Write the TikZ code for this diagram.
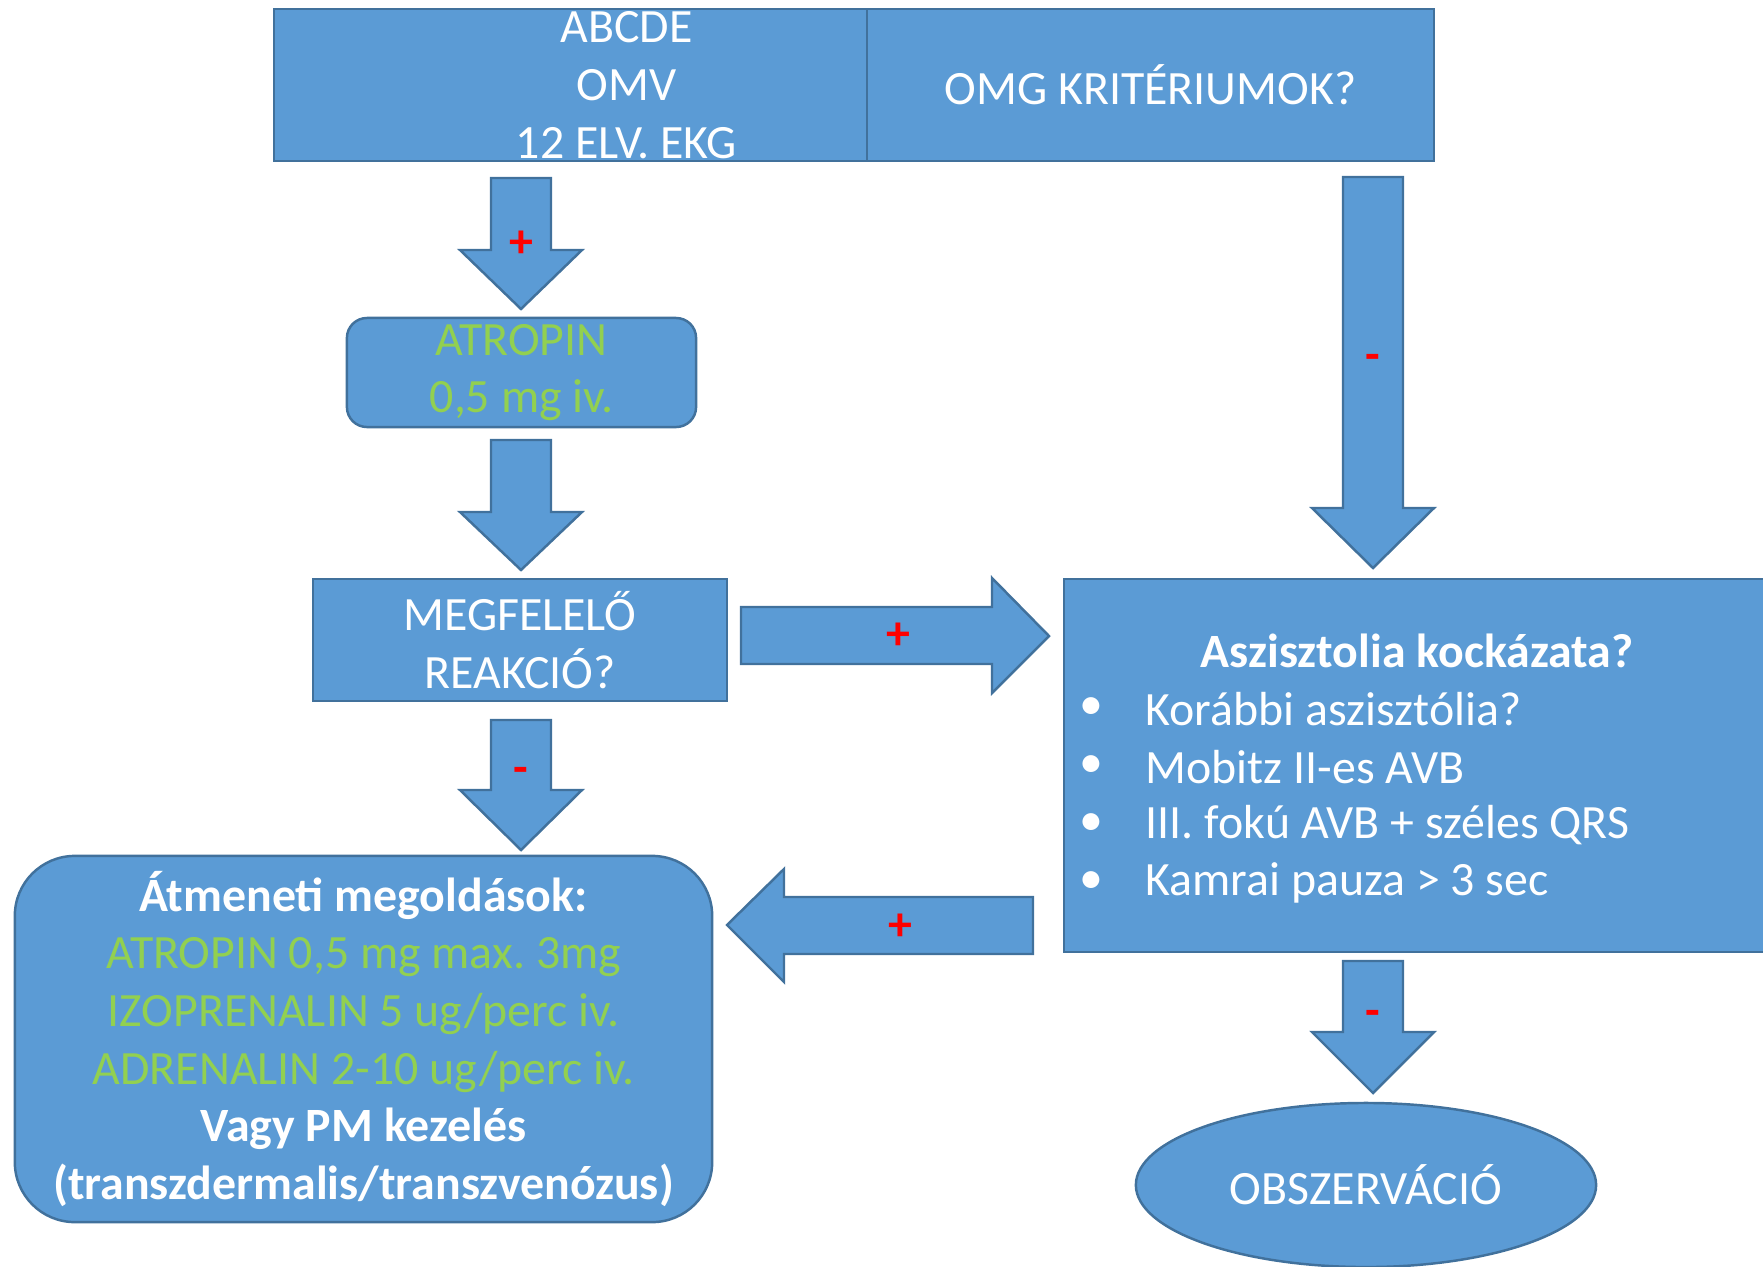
\documentclass[tikz,border=0pt]{standalone}
\usepackage{fontspec}
\setmainfont{Carlito}
\usepackage{tikz}
\usetikzlibrary{shapes.geometric}
\definecolor{boxblue}{HTML}{5B9BD5}
\definecolor{boxline}{HTML}{41719C}
\definecolor{drugcolor}{HTML}{92D050}
\frenchspacing
\begin{document}
\begin{tikzpicture}[x=0.01cm,y=-0.01cm,
  every node/.style={font=\fontsize{13.6}{16.4}\selectfont},
  box/.style={draw=boxline,fill=boxblue,line width=0.7pt,inner sep=0pt,align=center,text=white},
  blockarrow/.style={draw=boxline,fill=boxblue,line width=0.7pt,line join=miter},
  sign/.style={text=red,font=\fontsize{13.6}{16.4}\selectfont\bfseries}]
\useasboundingbox (0,0) rectangle (1763,1266);
%% boxes
\node[box,minimum width=7.05cm,minimum height=1.52cm] (abcde) at (626.5,85) {ABCDE\\OMV\\12 ELV. EKG};
\node[box,minimum width=5.67cm,minimum height=1.52cm] (omg) at (1150.5,85) {OMG KRITÉRIUMOK?};
\node[box,rounded corners=0.2cm,text=drugcolor,minimum width=3.49cm,minimum height=1.09cm] (atropin) at (521.5,372.5) {ATROPIN\\0,5 mg iv.};
\node[box,minimum width=4.14cm,minimum height=1.22cm] (reakcio) at (520,640) {MEGFELELŐ\\REAKCIÓ?};
\node[box,minimum width=7.01cm,minimum height=3.73cm] (kockazat) at (1414.5,765.5) {};
\node[box,rounded corners=0.6cm,minimum width=6.97cm,minimum height=3.66cm] (atmeneti) at (363.5,1039)
  {\textbf{Átmeneti megoldások:}\\
   \textcolor{drugcolor}{ATROPIN 0,5 mg max. 3mg}\\
   \textcolor{drugcolor}{IZOPRENALIN 5 ug/perc iv.}\\
   \textcolor{drugcolor}{ADRENALIN 2-10 ug/perc iv.}\\
   \textbf{Vagy PM kezelés}\\
   \textbf{(transzdermalis/transzvenózus)}};
\node[box,ellipse,minimum width=4.6cm,minimum height=1.64cm] (obs) at (1366,1185) {OBSZERVÁCIÓ};

%% text of the risk box
\node[text=white,font=\fontsize{13.6}{16.4}\selectfont\bfseries] (kocktitle) at (1417,651) {Aszisztolia kockázata?};
\foreach \i/\y/\t in {1/709/Korábbi aszisztólia?, 2/767/Mobitz II-es AVB, 3/825/III. fokú AVB + széles QRS, 4/883/Kamrai pauza > 3 sec}{
    \node[text=white] (dot\i) at (1091,\y) {\textbullet};
    \node[text=white,anchor=west,inner sep=0pt] (item\i) at (1145,\y) {\t};
}

%% down arrows
\foreach \cx/\ytop/\ybase/\ytip in {521/178/250/309, 521/440/512/570, 521/720/790/850, 1373/177/508/568, 1373/961/1032/1093}
    \filldraw[blockarrow] (\cx-30,\ytop) -- (\cx+30,\ytop) -- (\cx+30,\ybase) -- (\cx+61,\ybase)
        -- (\cx,\ytip) -- (\cx-61,\ybase) -- (\cx-30,\ybase) -- cycle;
%% right arrow
\filldraw[blockarrow] (741,607) -- (992,607) -- (992,578) -- (1049,636) -- (992,693) -- (992,664) -- (741,664) -- cycle;
%% left arrow
\filldraw[blockarrow] (1033,897) -- (784,897) -- (784,869) -- (727,925) -- (784,982) -- (784,954) -- (1033,954) -- cycle;

%% signs
\node[sign] (p1) at (521,244) {+};
\node[sign] (p2) at (898,636) {+};
\node[sign] (p3) at (900,927) {+};
\node[sign] (m1) at (521,775) {-};
\node[sign] (m2) at (1373,362) {-};
\node[sign] (m3) at (1373,1018) {-};
\end{tikzpicture}
\end{document}
